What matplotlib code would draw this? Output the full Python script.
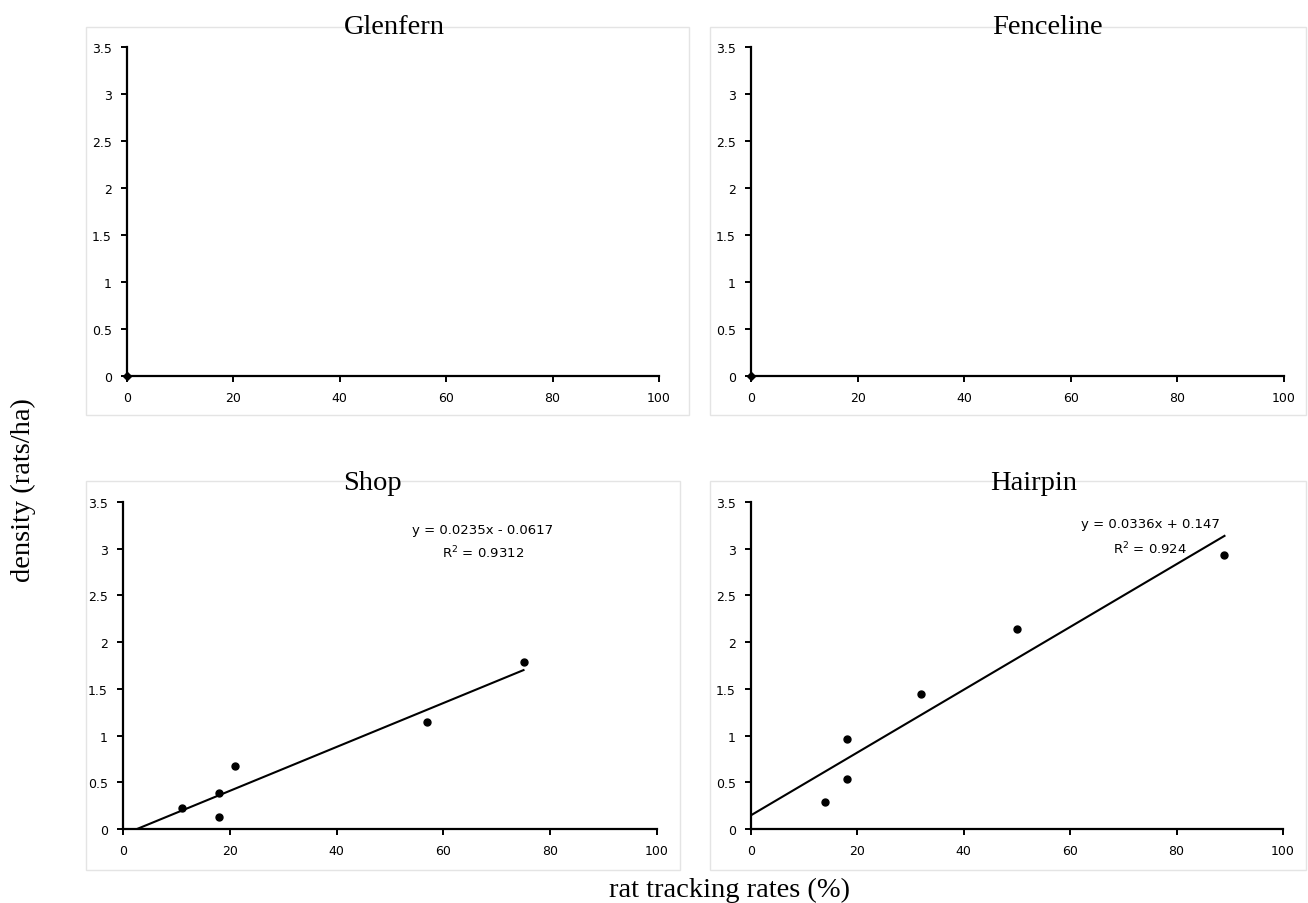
import matplotlib
matplotlib.use("Agg")
import matplotlib.pyplot as plt
from matplotlib.patches import Rectangle

# ---- data ----
glenfern_x = [0]
glenfern_y = [0]
fenceline_x = [0]
fenceline_y = [0]

shop_x = [11, 18, 18, 21, 57, 75]
shop_y = [0.23, 0.38, 0.13, 0.67, 1.14, 1.79]
shop_slope, shop_intercept, shop_r2 = 0.0235, -0.0617, 0.9312

hairpin_x = [14, 18, 18, 32, 50, 89]
hairpin_y = [0.29, 0.53, 0.96, 1.45, 2.14, 2.93]
hairpin_slope, hairpin_intercept, hairpin_r2 = 0.0336, 0.147, 0.924

x_ticks = [0, 20, 40, 60, 80, 100]
y_ticks = [0, 0.5, 1, 1.5, 2, 2.5, 3, 3.5]
y_tick_labels = ["0", "0.5", "1", "1.5", "2", "2.5", "3", "3.5"]

W, H = 1308, 904
fig = plt.figure(figsize=(W / 100, H / 100), dpi=100)
fig.patch.set_facecolor("white")

serif = ["Liberation Serif", "DejaVu Serif"]


def px_box(x0, y0, x1, y1):
    """Convert a pixel box (top-left origin) to figure fraction [l, b, w, h]."""
    return [x0 / W, 1 - y1 / H, (x1 - x0) / W, (y1 - y0) / H]


# light chart-area frames
for (x0, y0, x1, y1) in [(86, 28, 689, 416), (710, 28, 1306, 416),
                         (86, 482, 680, 871), (710, 482, 1306, 871)]:
    fig.patches.append(Rectangle((x0 / W, 1 - y1 / H), (x1 - x0) / W, (y1 - y0) / H,
                                 transform=fig.transFigure, fill=False,
                                 edgecolor="#e4e4e4", linewidth=1.0))


def style_axes(ax):
    ax.set_xlim(0, 100)
    ax.set_ylim(0, 3.5)
    ax.set_xticks(x_ticks)
    ax.set_yticks(y_ticks)
    ax.set_yticklabels(y_tick_labels)
    for s in ("top", "right"):
        ax.spines[s].set_visible(False)
    for s in ("left", "bottom"):
        ax.spines[s].set_linewidth(1.6)
        ax.spines[s].set_color("black")
    ax.tick_params(direction="out", length=4, width=1.4, labelsize=9,
                   pad=7, colors="black")
    ax.set_facecolor("none")


panels = [
    (px_box(127, 48, 659, 377), glenfern_x, glenfern_y, None, "Glenfern", 394, 34),
    (px_box(751, 48, 1284, 377), fenceline_x, fenceline_y, None, "Fenceline", 1047, 34),
    (px_box(123, 503, 657, 830), shop_x, shop_y,
     (shop_slope, shop_intercept, shop_r2, 67.4, 3.21, 2.965), "Shop", 372, 490),
    (px_box(751, 503, 1283, 830), hairpin_x, hairpin_y,
     (hairpin_slope, hairpin_intercept, hairpin_r2, 75.0, 3.265, 3.008), "Hairpin", 1034, 490),
]

for rect, xs, ys, fit, title, tx, ty in panels:
    ax = fig.add_axes(rect)
    style_axes(ax)
    if fit is None:
        ax.plot(xs, ys, linestyle="none", marker="D", markersize=4,
                color="black", clip_on=False, zorder=5)
    else:
        slope, intercept, r2, ex, ey1, ey2 = fit
        ax.plot(xs, ys, linestyle="none", marker="o", markersize=5,
                color="black", zorder=5)
        x_start = max(0.0, -intercept / slope)
        x_end = max(xs)
        ax.plot([x_start, x_end],
                [slope * x_start + intercept, slope * x_end + intercept],
                color="black", linewidth=1.5)
        sign = "-" if intercept < 0 else "+"
        ax.text(ex, ey1, f"y = {slope:.4f}x {sign} {abs(intercept):g}",
                ha="center", va="center", fontsize=9.5)
        ax.text(ex, ey2, f"R$^2$ = {r2:g}", ha="center", va="center", fontsize=9.5)
    fig.text(tx / W, 1 - ty / H, title, ha="center", va="baseline",
             fontsize=20.5, family=serif)

fig.text(23 / W, 1 - 490 / H, "density (rats/ha)", rotation=90,
         ha="center", va="center", fontsize=20.5, family=serif)
fig.text(729 / W, 1 - 897 / H, "rat tracking rates (%)", ha="center",
         va="baseline", fontsize=20.5, family=serif)

fig.savefig("out.png", dpi=100, facecolor="white")
